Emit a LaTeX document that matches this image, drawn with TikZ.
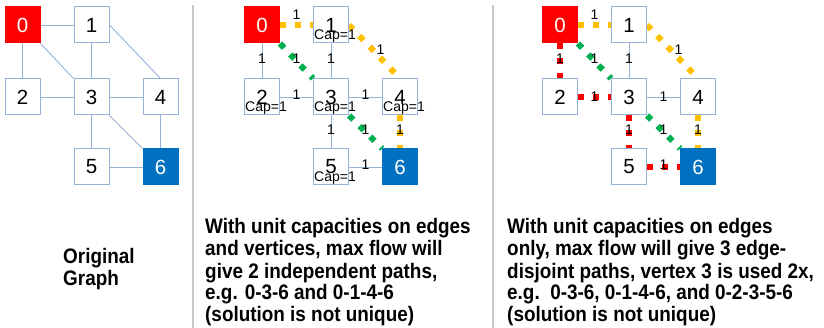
\documentclass[tikz,border=0pt]{standalone}
\usepackage{fontspec}
\setmainfont{Liberation Sans}
\newfontfamily\narrowfont[FakeStretch=0.9]{Liberation Sans}
\usetikzlibrary{backgrounds}
\definecolor{nodeRed}{RGB}{255,0,0}
\definecolor{nodeBlue}{RGB}{0,112,192}
\definecolor{lineBlue}{RGB}{149,179,215}
\definecolor{flowOrange}{RGB}{255,192,0}
\definecolor{flowGreen}{RGB}{0,176,80}
\definecolor{flowRed}{RGB}{255,0,0}
\definecolor{sepGray}{RGB}{200,200,200}
\tikzset{
  gbox/.style={draw=lineBlue, fill=white, minimum width=35pt, minimum height=36pt,
    inner sep=0pt, line width=1pt, font=\fontsize{20.5}{20.5}\selectfont},
  srcbox/.style={gbox, fill=nodeRed, draw=nodeRed, text=white},
  sinkbox/.style={gbox, fill=nodeBlue, draw=nodeBlue, text=white},
  thinedge/.style={draw=lineBlue, line width=0.9pt},
  flowedge/.style={line width=6pt, dash pattern=on 6pt off 9pt},
  orangeflow/.style={flowedge, draw=flowOrange},
  greenflow/.style={flowedge, draw=flowGreen},
  redflow/.style={flowedge, draw=flowRed},
  elab/.style={font=\fontsize{14}{14}\selectfont, inner sep=0pt, text=black, yshift=2pt},
  caplab/.style={font=\fontsize{14}{14}\selectfont, inner sep=0pt, anchor=base west},
  para/.style={font=\narrowfont\bfseries\fontsize{21}{22}\selectfont, align=left,
    inner sep=0pt, anchor=base west},
  seprule/.style={draw=sepGray, line width=2pt}
}
\newcommand\graphboxes[2]{%
  \node[srcbox] (#1n0) at (#2,25) {0};
  \node[gbox] (#1n1) at (#2+69,25) {1};
  \node[gbox] (#1n2) at (#2,97) {2};
  \node[gbox] (#1n3) at (#2+69,97) {3};
  \node[gbox] (#1n4) at (#2+138,97) {4};
  \node[gbox] (#1n5) at (#2+69,167) {5};
  \node[sinkbox] (#1n6) at (#2+138,167) {6};
}
\begin{document}
\begin{tikzpicture}[x=1pt,y=-1pt]
\useasboundingbox (0,0) rectangle (824,328);
% nodes
\graphboxes{a}{22.5}
\graphboxes{b}{262}
\graphboxes{c}{560}
% separators
\coordinate (s1t) at (192.5,5);
\coordinate (s1b) at (192.5,328);
\coordinate (s2t) at (492.5,5);
\coordinate (s2b) at (492.5,328);
\draw[seprule] (s1t) -- (s1b);
\draw[seprule] (s2t) -- (s2b);
\begin{pgfonlayer}{background}
\fill[white] (0,0) rectangle (824,328);
% panel 1: original graph
\draw[thinedge] (an0) -- (an1);
\draw[thinedge] (an0) -- (an2);
\draw[thinedge] (an0.south east) -- (an3.north west);
\draw[thinedge] (an1) -- (an3);
\draw[thinedge] (an1.east) -- (an4.north);
\draw[thinedge] (an2) -- (an3);
\draw[thinedge] (an3) -- (an4);
\draw[thinedge] (an3) -- (an5);
\draw[thinedge] (an3.south east) -- (an6.north west);
\draw[thinedge] (an4) -- (an6);
\draw[thinedge] (an5) -- (an6);
% panel 2
\draw[orangeflow] (bn0) -- node[elab,yshift=8pt]{1} (bn1);
\draw[thinedge] (bn0) -- node[elab]{1} (bn2);
\draw[greenflow] (bn0.south east) -- node[elab]{1} (bn3.north west);
\draw[thinedge] (bn1) -- node[elab]{1} (bn3);
\draw[orangeflow] (bn1.east) -- node[elab,xshift=6pt]{1} (bn4.north);
\draw[thinedge] (bn2) -- node[elab]{1} (bn3);
\draw[thinedge] (bn3) -- node[elab]{1} (bn4);
\draw[thinedge] (bn3) -- node[elab]{1} (bn5);
\draw[greenflow] (bn3.south east) -- node[elab]{1} (bn6.north west);
\draw[orangeflow] (bn4) -- node[elab]{1} (bn6);
\draw[thinedge] (bn5) -- node[elab]{1} (bn6);
% panel 3
\draw[orangeflow] (cn0) -- node[elab,yshift=8pt]{1} (cn1);
\draw[redflow] (cn0) -- node[elab]{1} (cn2);
\draw[greenflow] (cn0.south east) -- node[elab]{1} (cn3.north west);
\draw[thinedge] (cn1) -- node[elab]{1} (cn3);
\draw[orangeflow] (cn1.east) -- node[elab,xshift=6pt]{1} (cn4.north);
\draw[redflow] (cn2) -- node[elab,yshift=-2pt]{1} (cn3);
\draw[thinedge] (cn3) -- node[elab,yshift=-2pt]{1} (cn4);
\draw[redflow] (cn3) -- node[elab]{1} (cn5);
\draw[greenflow] (cn3.south east) -- node[elab]{1} (cn6.north west);
\draw[orangeflow] (cn4) -- node[elab]{1} (cn6);
\draw[redflow] (cn5) -- node[elab]{1} (cn6);
\end{pgfonlayer}
% capacity labels on vertices (panel 2)
\node[caplab] (bc1) at ([shift={(-17,15)}]bn1.center) {Cap=1};
\node[caplab] (bc2) at ([shift={(-17,15)}]bn2.center) {Cap=1};
\node[caplab] (bc3) at ([shift={(-17,15)}]bn3.center) {Cap=1};
\node[caplab] (bc4) at ([shift={(-17,15)}]bn4.center) {Cap=1};
\node[caplab] (bc5) at ([shift={(-17,15)}]bn5.center) {Cap=1};
% captions (base anchor = baseline of the last line)
\node[para] (t1) at (63,286) {Original\\Graph};
\node[para] (t2) at (205,322) {With unit capacities on edges\\and vertices, max flow will\\give 2 independent paths,\\e.g. 0-3-6 and 0-1-4-6\\(solution is not unique)};
\node[para] (t3) at (507,322) {With unit capacities on edges\\only, max flow will give 3 edge-\\disjoint paths, vertex 3 is used 2x,\\e.g.~~0-3-6, 0-1-4-6, and 0-2-3-5-6\\(solution is not unique)};
\end{tikzpicture}
\end{document}
